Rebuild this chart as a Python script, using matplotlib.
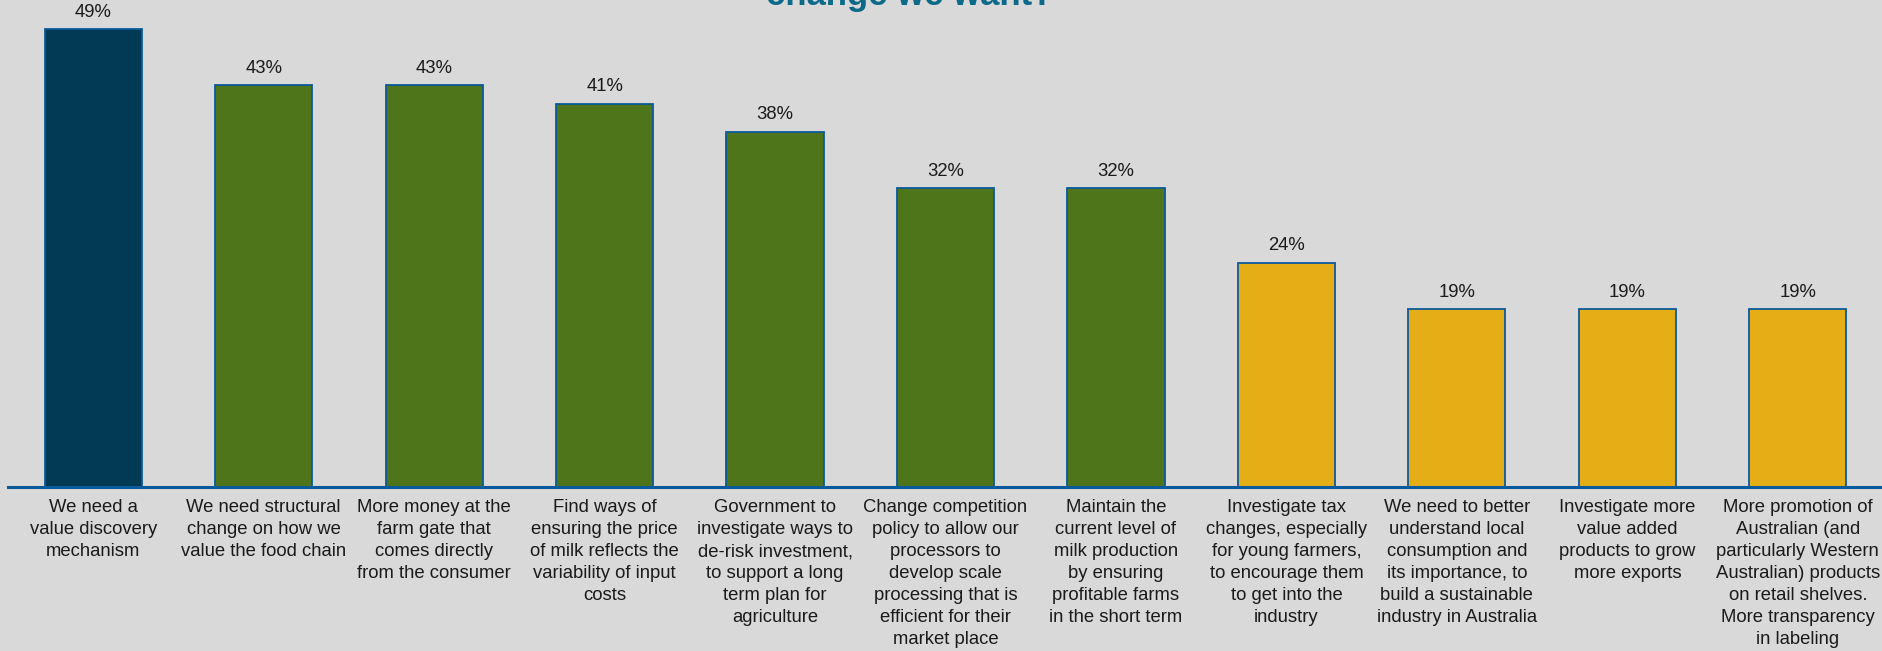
import matplotlib.pyplot as plt
import matplotlib
import numpy as np

matplotlib.rcParams['font.family'] = ['Liberation Sans', 'DejaVu Sans']

# data
categories = ['We need a\nvalue discovery\nmechanism',
              'We need structural\nchange on how we\nvalue the food chain',
              'More money at the\nfarm gate that\ncomes directly\nfrom the consumer',
              'Find ways of\nensuring the price\nof milk reflects the\nvariability of input\ncosts',
              'Government to\ninvestigate ways to\nde-risk investment,\nto support a long\nterm plan for\nagriculture',
              'Change competition\npolicy to allow our\nprocessors to\ndevelop scale\nprocessing that is\nefficient for their\nmarket place',
              'Maintain the\ncurrent level of\nmilk production\nby ensuring\nprofitable farms\nin the short term',
              'Investigate tax\nchanges, especially\nfor young farmers,\nto encourage them\nto get into the\nindustry',
              'We need to better\nunderstand local\nconsumption and\nits importance, to\nbuild a sustainable\nindustry in Australia',
              'Investigate more\nvalue added\nproducts to grow\nmore exports',
              'More promotion of\nAustralian (and\nparticularly Western\nAustralian) products\non retail shelves.\nMore transparency\nin labeling']
values = [49, 43, 43, 41, 38, 32, 32, 24, 19, 19, 19]
groups = ['top', 'high', 'high', 'high', 'high', 'high', 'high', 'mid', 'mid', 'mid', 'mid']
group_colors = {'top': '#023a53', 'high': '#4e7519', 'mid': '#e6ae16'}

bg = '#d9d9d9'
W, H = 1883, 651
fig = plt.figure(figsize=(W / 100, H / 100), dpi=100, facecolor=bg)
ax = fig.add_axes([8 / W, 164 / H, 1875 / W, 487 / H])
ax.set_facecolor(bg)

x = np.arange(len(values))
cols = [group_colors[g] for g in groups]
bars = ax.bar(x, values, width=0.57, color=cols, edgecolor='#0a5a9c', linewidth=1.3, zorder=2)

for xi, v in zip(x, values):
    ax.annotate(f'{v}%', (xi, v), xytext=(0, 6), textcoords='offset points',
                ha='center', va='bottom', fontsize=13.3, color='#1a1a1a')

ax.set_xlim(-0.5, 10.5)
ax.set_ylim(0, 52.1)
ax.set_yticks([])
ax.set_xticks(x)
ax.set_xticklabels(categories, fontsize=13.3, color='#1a1a1a', linespacing=1.38)
ax.tick_params(axis='x', length=0, pad=9)
for s in ['top', 'right', 'left']:
    ax.spines[s].set_visible(False)
ax.spines['bottom'].set_color('#0a5a9c')
ax.spines['bottom'].set_linewidth(2.2)
ax.spines['bottom'].set_zorder(3)

# title, mostly cut off by the top edge in the reference
fig.text(910 / W, 1 - 5 / H, 'change we want?', ha='center', va='baseline',
         fontsize=25, fontweight='bold', color='#0b6a8a')

fig.savefig('out.png', dpi=100, facecolor=bg)
